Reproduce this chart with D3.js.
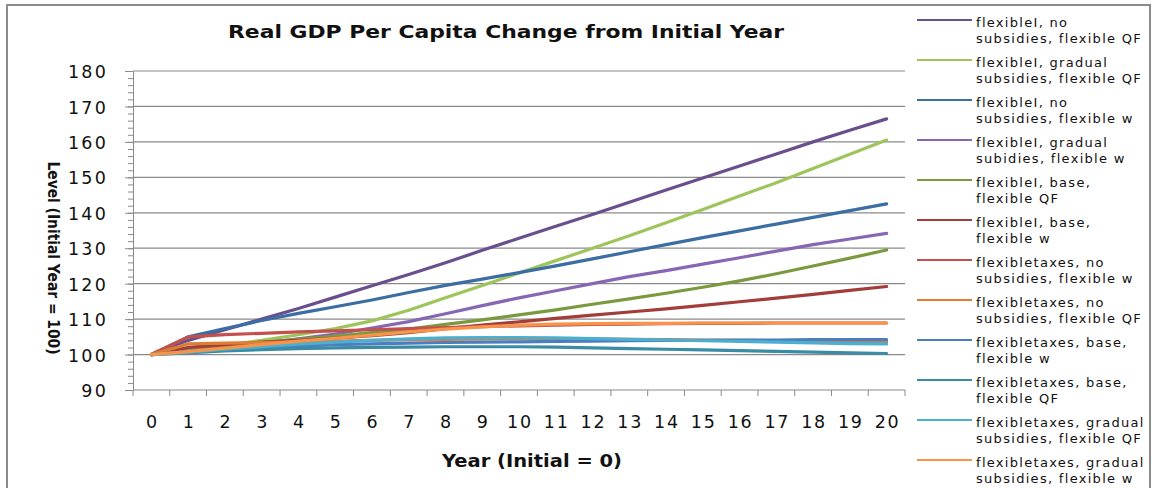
<!DOCTYPE html>
<html>
<head>
<meta charset="utf-8">
<script src="https://cdn.jsdelivr.net/npm/d3@7"></script>
<style>
  html, body { margin: 0; padding: 0; background: #fff; }
  svg { display: block; }
</style>
</head>
<body>
<svg id="chart" width="1156" height="488"></svg>
<script>
// Years since the initial year
const years = d3.range(0, 21);
const yTickValues = [90, 100, 110, 120, 130, 140, 150, 160, 170, 180];

// Scenario names (two legend lines each)
const seriesNames = [
  ["flexibleI, no", "subsidies, flexible QF"],
  ["flexibleI, gradual", "subsidies, flexible QF"],
  ["flexibleI, no", "subsidies, flexible w"],
  ["flexibleI, gradual", "subidies, flexible w"],
  ["flexibleI, base,", "flexible QF"],
  ["flexibleI, base,", "flexible w"],
  ["flexibletaxes, no", "subsidies, flexible w"],
  ["flexibletaxes, no", "subsidies, flexible QF"],
  ["flexibletaxes, base,", "flexible w"],
  ["flexibletaxes, base,", "flexible QF"],
  ["flexibletaxes, gradual", "subsidies, flexible QF"],
  ["flexibletaxes, gradual", "subsidies, flexible w"]
];

// Real GDP per capita level, initial year = 100
const flexI_noSub_QF   = [100, 104, 107, 110, 113, 116.2, 119.4, 122.6, 125.9, 129.4, 132.8, 136.2, 139.5, 143, 146.4, 149.8, 153.2, 156.6, 160, 163.3, 166.5];
const flexI_gradSub_QF = [100, 101.3, 102.6, 104, 105.6, 107.3, 109.5, 112.5, 116, 119.5, 123, 126.5, 130, 133.5, 137.2, 140.9, 144.7, 148.5, 152.5, 156.5, 160.5];
const flexI_noSub_w    = [100, 105, 107.3, 109.6, 111.6, 113.5, 115.4, 117.5, 119.5, 121.3, 123.1, 125, 127, 129, 131, 133, 134.9, 136.8, 138.7, 140.6, 142.5];
const flexI_gradSub_w  = [100, 101, 102, 103.2, 104.4, 105.8, 107.5, 109.3, 111.5, 113.8, 116, 118, 120, 122, 123.7, 125.5, 127.3, 129.2, 131, 132.6, 134.2];
const flexI_base_QF    = [100, 101.8, 102.6, 103.4, 104.3, 105.2, 106.2, 107.2, 108.5, 109.8, 111.2, 112.6, 114.2, 115.7, 117.3, 119, 120.8, 122.8, 125, 127.2, 129.5];
const flexI_base_w     = [100, 102, 102.8, 103.5, 104, 104.6, 105.3, 106.2, 107.3, 108.3, 109.2, 110.2, 111.1, 112, 112.9, 113.9, 114.9, 115.9, 117, 118.1, 119.2];
const flexT_noSub_w    = [100, 105, 105.6, 106, 106.4, 106.7, 107, 107.3, 107.6, 107.9, 108.1, 108.3, 108.5, 108.6, 108.7, 108.8, 108.8, 108.9, 108.9, 108.9, 108.9];
const flexT_noSub_QF   = [100, 103, 103.2, 103.4, 103.6, 103.8, 104, 104.2, 104.3, 104.4, 104.5, 104.5, 104.4, 104.3, 104.2, 104.1, 104, 103.9, 103.8, 103.7, 103.6];
const flexT_base_w     = [100, 100.8, 101.4, 102, 102.4, 102.8, 103, 103.2, 103.4, 103.5, 103.6, 103.7, 103.8, 103.9, 104, 104, 104.1, 104.1, 104.2, 104.2, 104.2];
const flexT_base_QF    = [100, 100.5, 101, 101.4, 101.7, 101.9, 102, 102.1, 102.2, 102.2, 102.2, 102.1, 101.9, 101.7, 101.5, 101.3, 101.1, 100.9, 100.7, 100.5, 100.3];
const flexT_gradSub_QF = [100, 100.7, 101.5, 102.2, 102.9, 103.5, 104, 104.4, 104.7, 104.8, 104.8, 104.7, 104.5, 104.3, 104.1, 103.9, 103.7, 103.5, 103.3, 103.1, 103];
const flexT_gradSub_w  = [100, 100.8, 101.8, 102.8, 103.8, 104.6, 105.5, 106.4, 107.2, 107.8, 108.3, 108.6, 108.7, 108.8, 108.8, 108.9, 108.9, 108.9, 108.9, 108.9, 108.9];

const seriesValues = [
  flexI_noSub_QF, flexI_gradSub_QF, flexI_noSub_w, flexI_gradSub_w,
  flexI_base_QF, flexI_base_w, flexT_noSub_w, flexT_noSub_QF,
  flexT_base_w, flexT_base_QF, flexT_gradSub_QF, flexT_gradSub_w
];

const colors = [
  "#6A4F8E", "#9DC55B", "#3C6DA3", "#8767B4", "#7A9A3E", "#A33D3A",
  "#C4504D", "#DE7E32", "#4B7EC0", "#3A8CA5", "#4CAFD0", "#F7944A"
];

const svg = d3.select("#chart");
const plot = { left: 133, right: 905, top: 71, bottom: 390 };

const x = d3.scaleBand().domain(years).range([plot.left, plot.right]).padding(0);
const xc = d => x(d) + x.bandwidth() / 2;
const y = d3.scaleLinear().domain([90, 180]).range([plot.bottom, plot.top]);

const axisGray = "#8a8a8a";
const fontMain = "'DejaVu Sans', Verdana, sans-serif";

// Outer chart frame
svg.append("rect")
  .attr("x", 7).attr("y", 5).attr("width", 1143).attr("height", 500)
  .attr("fill", "none").attr("stroke", "#8c8c8c").attr("stroke-width", 2);

// Title
svg.append("text")
  .attr("x", 506).attr("y", 38)
  .attr("text-anchor", "middle")
  .attr("font-family", fontMain).attr("font-weight", "bold").attr("font-size", 18.5)
  .attr("textLength", 556).attr("lengthAdjust", "spacingAndGlyphs")
  .attr("fill", "#111")
  .text("Real GDP Per Capita Change from Initial Year");

// Horizontal gridlines
svg.append("g").selectAll("line")
  .data(yTickValues.filter(v => v > 90))
  .join("line")
  .attr("x1", plot.left).attr("x2", plot.right)
  .attr("y1", d => y(d)).attr("y2", d => y(d))
  .attr("stroke", axisGray).attr("stroke-width", 1.2);

// Y axis with major and minor ticks
const yAxisG = svg.append("g").attr("transform", `translate(${plot.left},0)`);
yAxisG.call(d3.axisLeft(y).tickValues(d3.range(90, 181, 2)).tickSize(5).tickFormat(""));
yAxisG.call(g => g.select(".domain").remove());
yAxisG.selectAll("line").attr("stroke", axisGray);
svg.append("g").attr("transform", `translate(${plot.left},0)`)
  .call(d3.axisLeft(y).tickValues(yTickValues).tickSize(8).tickPadding(17))
  .call(g => g.select(".domain").attr("stroke", axisGray))
  .call(g => g.selectAll("line").attr("stroke", axisGray))
  .call(g => g.selectAll("text")
    .attr("font-family", fontMain).attr("font-size", 17.5)
    .attr("letter-spacing", "2.2px").attr("fill", "#111")
    .attr("dy", "0.38em"));

// X axis: ticks at category boundaries, labels at category centres
const xAxisG = svg.append("g").attr("transform", `translate(0,${plot.bottom})`);
xAxisG.append("line")
  .attr("x1", plot.left).attr("x2", plot.right)
  .attr("stroke", axisGray).attr("stroke-width", 1.2);
xAxisG.selectAll(".xt")
  .data(years.concat([years.length]))
  .join("line")
  .attr("class", "xt")
  .attr("x1", (d, i) => plot.left + i * x.bandwidth())
  .attr("x2", (d, i) => plot.left + i * x.bandwidth())
  .attr("y1", 0).attr("y2", 6)
  .attr("stroke", axisGray);
xAxisG.selectAll(".xl")
  .data(years)
  .join("text")
  .attr("class", "xl")
  .attr("x", d => xc(d) + 1).attr("y", 38)
  .attr("text-anchor", "middle")
  .attr("font-family", fontMain).attr("font-size", 17.5)
  .attr("letter-spacing", "1.8px").attr("fill", "#111")
  .text(d => d);

// Axis titles
svg.append("text")
  .attr("x", 532).attr("y", 467)
  .attr("text-anchor", "middle")
  .attr("font-family", fontMain).attr("font-weight", "bold").attr("font-size", 18)
  .attr("textLength", 180).attr("lengthAdjust", "spacingAndGlyphs")
  .attr("fill", "#111")
  .text("Year (Initial = 0)");

svg.append("text")
  .attr("transform", "translate(48,258) rotate(90)")
  .attr("text-anchor", "middle")
  .attr("font-family", fontMain).attr("font-weight", "bold").attr("font-size", 16)
  .attr("textLength", 193).attr("lengthAdjust", "spacingAndGlyphs")
  .attr("fill", "#111")
  .text("Level (Initial Year = 100)");

// Series lines
const line = d3.line()
  .x((d, i) => xc(years[i]))
  .y(d => y(d));

svg.append("g").selectAll("path")
  .data(seriesValues)
  .join("path")
  .attr("d", d => line(d))
  .attr("fill", "none")
  .attr("stroke", (d, i) => colors[i])
  .attr("stroke-width", 3.2)
  .attr("stroke-linejoin", "round")
  .attr("stroke-linecap", "round");

// Legend
const legend = svg.append("g");
const entry = legend.selectAll("g")
  .data(seriesNames)
  .join("g")
  .attr("transform", (d, i) => `translate(0,${20 + i * 40})`);
entry.append("line")
  .attr("x1", 917).attr("x2", 972)
  .attr("y1", 0).attr("y2", 0)
  .attr("stroke", (d, i) => colors[i])
  .attr("stroke-width", 1.8);
entry.each(function(d) {
  const t = d3.select(this).append("text")
    .attr("font-family", fontMain).attr("font-size", 13)
    .attr("letter-spacing", "1.3px").attr("fill", "#111");
  d.forEach((s, k) => {
    t.append("tspan").attr("x", 976).attr("y", 7 + k * 16).text(s);
  });
});
</script>
</body>
</html>
